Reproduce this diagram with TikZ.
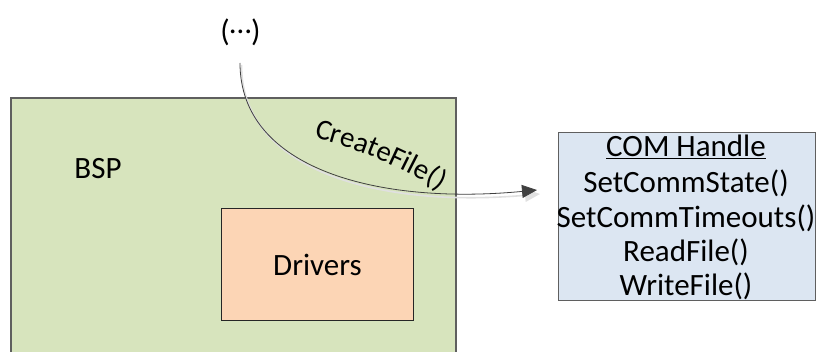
\documentclass[tikz,border=0pt]{standalone}
\usepackage{fontspec}
\setmainfont{Carlito}
\usetikzlibrary{arrows.meta,decorations.text}
\definecolor{bspfill}{HTML}{D7E4BD}
\definecolor{drvfill}{HTML}{FCD5B5}
\definecolor{comfill}{HTML}{DCE6F2}
\definecolor{edgegray}{HTML}{5F5F5F}
\definecolor{arrowgray}{HTML}{404040}
\tikzset{
  bigtext/.style={font=\fontsize{31}{35.5}\selectfont},
  bspbox/.style={draw=edgegray, line width=2pt, fill=bspfill, rectangle, inner sep=0pt},
  drvbox/.style={draw=black!85, line width=1pt, fill=drvfill, rectangle, inner sep=0pt, bigtext},
  combox/.style={draw=edgegray, line width=1.3pt, fill=comfill, rectangle, inner sep=0pt, bigtext, align=center},
  callarrow/.style={draw=arrowgray, line width=0.8pt, -{Triangle[length=15pt,width=13pt]}},
  callshadow/.style={draw=black!12, line width=1.6pt, -{Triangle[length=15pt,width=13pt]}},
}
\begin{document}
\begin{tikzpicture}[x=1pt,y=-1pt]
\useasboundingbox (0,0) rectangle (817,352);
\clip (0,0) rectangle (817,352);
% boxes
\node[bspbox, minimum width=445pt, minimum height=280pt, anchor=north west] (bsp) at (10,97) {};
\node[bigtext, anchor=base] (bsplabel) at (98,179) {BSP};
\node[drvbox, minimum width=192pt, minimum height=112pt, anchor=north west] (drv) at (221,208) {Drivers};
\node[combox, minimum width=257pt, minimum height=168pt, anchor=north west] (com) at (558,132) {};
\node[bigtext, anchor=base] (l1) at (686,156.5) {\underline{COM Handle}};
\node[bigtext, anchor=base] (l2) at (686,192.5) {SetCommState()};
\node[bigtext, anchor=base] (l3) at (686,227.5) {SetCommTimeouts()};
\node[bigtext, anchor=base] (l4) at (686,262) {ReadFile()};
\node[bigtext, anchor=base] (l5) at (686,296) {WriteFile()};
% caller
\node[bigtext, anchor=base] (dots) at (240.5,41.5) {(\raisebox{8pt}{…})};
\coordinate (cs) at (240,63);
\coordinate (ce) at (537,190);
\coordinate (css) at (241.5,65);
\coordinate (ces) at (540,194);
% connector
\draw[callshadow] (css) .. controls (241.5,172) and (381,208) .. (ces);
\draw[callarrow] (cs) .. controls (240,170) and (380,205) .. (ce);
% label along the curve
\path[decorate, decoration={text along path, text format delimiters={|}{|},
  text={|\fontsize{29}{33}\selectfont|CreateFile()}, text align={left}}]
  (314,138) .. controls (356,148) and (400,166) .. (445,194);
\end{tikzpicture}
\end{document}
